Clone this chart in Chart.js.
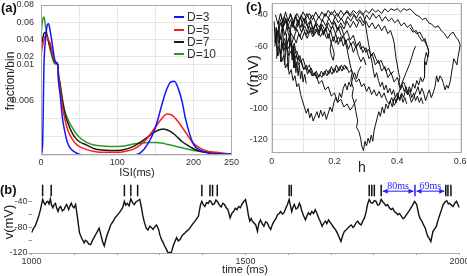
<!DOCTYPE html>
<html>
<head>
<meta charset="utf-8">
<script src="https://cdn.jsdelivr.net/npm/chart.js@4.4.0/dist/chart.umd.min.js"></script>
<style>
  body { margin: 0; background: #fff; width: 467px; height: 276px; position: relative; overflow: hidden; }
  canvas { position: absolute; }
  .txt { position: absolute; white-space: nowrap; color: #222; font-family: "Liberation Sans", Arial, sans-serif; line-height: 1; }
  .mid { transform: translate(-50%, -50%); }
  .rot { transform: translate(-50%, -50%) rotate(-90deg); }
  .tag { font-weight: bold; font-size: 13px; color: #111; }
  .key { position: absolute; height: 2px; width: 10px; }
</style>
</head>
<body>
<canvas id="chartA" width="240" height="180" style="left:0;top:0"></canvas>
<canvas id="chartC" width="237" height="175" style="left:230px;top:0"></canvas>
<canvas id="chartB" width="467" height="101" style="left:0;top:175px"></canvas>

<div class="txt tag" style="left:1px;top:1px">(a)</div>
<div class="txt rot" style="left:10px;top:81px;font-size:12px">fraction/bin</div>
<div class="txt mid" style="left:137px;top:172px;font-size:11px">ISI(ms)</div>
<div id="legendA"></div>

<div class="txt tag" style="left:246px;top:0">(c)</div>
<div class="txt rot" style="left:252px;top:75px;font-size:15px">v(mV)</div>
<div class="txt mid" style="left:362px;top:167px;font-size:14px">h</div>

<div class="txt tag" style="left:0;top:183px">(b)</div>
<div class="txt rot" style="left:8px;top:222px;font-size:13px">v(mV)</div>
<div class="txt mid" style="left:245px;top:269px;font-size:11px">time (ms)</div>

<script>
// ---- panel (a): ISI histograms ----
const isiA = [0, 2, 4, 6, 8, 10, 12, 14, 16, 18, 20, 22, 23, 25, 28, 31, 35, 40, 45, 50,
  60, 70, 80, 90, 100, 110, 120, 130, 140, 150, 160, 165, 170, 175, 180, 185, 190, 200, 210, 220, 230, 240, 250];
const fracD3 = [0, 0.001, 0.012, 0.04, 0.056, 0.058, 0.05, 0.039, 0.027, 0.016, 0.013, 0.0105, 0.0082, 0.0068, 0.0042, 0.0027, 0.0013, 0.0006, 0.0003, 0.0001,
  0, 0, 0, 0, 0, 0, 0, 0.0002, 0.0012, 0.003, 0.006, 0.0073, 0.0081, 0.0082, 0.0074, 0.006, 0.0039, 0.0012, 0.0005, 0.0002, 0.0001, 0.0001, 0.0001];
const fracD5 = [0.022, 0.032, 0.04, 0.0445, 0.043, 0.039, 0.035, 0.028, 0.019, 0.015, 0.0125, 0.0105, 0.0085, 0.0075, 0.0055, 0.0041, 0.0028, 0.0019, 0.0013, 0.00095,
  0.0006, 0.0004, 0.0003, 0.0003, 0.0003, 0.0004, 0.0006, 0.0011, 0.0019, 0.0031, 0.0042, 0.00455, 0.0045, 0.0042, 0.0037, 0.0031, 0.0025, 0.0013, 0.0007, 0.0004, 0.0003, 0.0002, 0.0001];
const fracD7 = [0.03, 0.04, 0.047, 0.048, 0.044, 0.037, 0.031, 0.025, 0.018, 0.014, 0.012, 0.0105, 0.0088, 0.0078, 0.0061, 0.0047, 0.0036, 0.0026, 0.0019, 0.0015,
  0.0011, 0.0007, 0.00055, 0.0005, 0.0005, 0.0006, 0.0009, 0.0014, 0.002, 0.0026, 0.0029, 0.0028, 0.0026, 0.0023, 0.0019, 0.0015, 0.0012, 0.0007, 0.0004, 0.0003, 0.0002, 0.0001, 0.0001];
const fracD10 = [0.046, 0.062, 0.066, 0.055, 0.045, 0.037, 0.028, 0.021, 0.015, 0.0115, 0.011, 0.0103, 0.009, 0.008, 0.0063, 0.005, 0.004, 0.0032, 0.0025, 0.002,
  0.0014, 0.0011, 0.001, 0.00095, 0.00095, 0.001, 0.0012, 0.0013, 0.0014, 0.0014, 0.0013, 0.0012, 0.0011, 0.001, 0.0009, 0.0008, 0.0007, 0.0005, 0.0004, 0.0003, 0.0002, 0.0001, 0.0001];
const seriesA = ['D=3', 'D=5', 'D=7', 'D=10'];
const colorsA = ['#1414ff', '#ff1a1a', '#1a1a1a', '#2a9a2a'];
const yTicksA = [0, 0.002, 0.004, 0.006, 0.008, 0.01, 0.02, 0.04, 0.06, 0.08];
const yLabelsA = ['', '', '', '0.006', '', '0.01', '0.02', '0.04', '0.06', '0.08'];
const xTicksA = [0, 50, 100, 150, 200, 250];
const xLabelsA = ['0', '', '100', '', '200', '250'];

// ---- panel (b): voltage trace ----
const timeB = [
  1000, 1005, 1009, 1013, 1017, 1021, 1026, 1029, 1032, 1035,
  1038, 1041, 1044, 1047, 1050, 1053, 1056, 1059, 1062, 1065,
  1068, 1072, 1076, 1079, 1082, 1085, 1087, 1090, 1093, 1096,
  1099, 1103, 1107, 1112, 1116, 1119, 1123, 1126, 1130, 1134,
  1138, 1142, 1146, 1150, 1154, 1158, 1163, 1166, 1170, 1174,
  1177, 1181, 1185, 1190, 1195, 1200, 1205, 1209, 1213, 1217,
  1220, 1224, 1228, 1232, 1236, 1240, 1244, 1248, 1253, 1257,
  1260, 1263, 1268, 1272, 1276, 1280, 1284, 1288, 1292, 1297,
  1300, 1304, 1308, 1311, 1315, 1319, 1323, 1326, 1331, 1335,
  1339, 1343, 1347, 1351, 1354, 1358, 1362, 1366, 1370, 1376,
  1382, 1386, 1390, 1395, 1398, 1402, 1405, 1409, 1413, 1416,
  1419, 1423, 1427, 1431, 1435, 1439, 1443, 1447, 1451, 1455,
  1459, 1464, 1468, 1472, 1476, 1480, 1484, 1488, 1492, 1495,
  1500, 1504, 1507, 1510, 1513, 1516, 1520, 1524, 1528, 1531,
  1535, 1539, 1543, 1547, 1551, 1555, 1559, 1563, 1567, 1571,
  1575, 1579, 1582, 1586, 1590, 1594, 1598, 1602, 1605, 1608,
  1611, 1614, 1618, 1622, 1626, 1629, 1632, 1636, 1640, 1644,
  1647, 1651, 1655, 1659, 1663, 1667, 1671, 1675, 1679, 1683,
  1687, 1690, 1694, 1698, 1702, 1706, 1710, 1714, 1718, 1723,
  1727, 1731, 1735, 1739, 1743, 1747, 1751, 1754, 1758, 1762,
  1766, 1770, 1774, 1778, 1782, 1785, 1789, 1793, 1797, 1801,
  1805, 1809, 1813, 1817, 1821, 1824, 1828, 1832, 1836, 1840,
  1844, 1848, 1852, 1856, 1860, 1864, 1868, 1871, 1875, 1879,
  1883, 1887, 1891, 1895, 1900, 1905, 1908, 1912, 1916, 1920,
  1923, 1926, 1930, 1933, 1938, 1942, 1946, 1950, 1954, 1958,
  1962, 1966, 1970, 1974, 1977, 1981, 1985, 1989, 1993, 1997,
  2000];
const voltB = [
  -88, -81, -77, -70, -62, -52, -36, -41, -44, -40,
  -39, -43, -35, -45, -49, -44, -42, -50, -55, -49,
  -47, -54, -52, -47, -44, -49, -52, -46, -42, -47,
  -49, -44, -62, -88, -95, -99, -104, -100, -102, -106,
  -107, -101, -96, -91, -86, -81, -94, -102, -109, -98,
  -91, -84, -76, -71, -65, -61, -57, -53, -49, -39,
  -45, -42, -46, -35, -41, -44, -40, -38, -36, -49,
  -61, -70, -81, -84, -78, -80, -83, -79, -76, -83,
  -92, -99, -104, -109, -114, -120, -119, -121, -109, -102,
  -96, -101, -99, -94, -91, -89, -86, -84, -81, -75,
  -70, -66, -62, -44, -39, -45, -47, -41, -42, -38,
  -39, -44, -43, -37, -40, -45, -48, -42, -44, -49,
  -52, -65, -58, -55, -50, -52, -47, -49, -43, -40,
  -36, -49, -62, -70, -66, -70, -73, -76, -86, -74,
  -68, -74, -78, -71, -73, -79, -83, -75, -70, -66,
  -60, -58, -55, -59, -57, -50, -44, -36, -46, -55,
  -48, -44, -51, -49, -42, -47, -55, -62, -68, -61,
  -57, -60, -55, -58, -52, -58, -65, -71, -78, -73,
  -70, -74, -68, -72, -76, -80, -83, -88, -94, -102,
  -93, -86, -84, -81, -78, -76, -80, -78, -73, -70,
  -74, -76, -70, -65, -55, -44, -36, -41, -42, -38,
  -39, -45, -44, -36, -40, -42, -46, -44, -49, -52,
  -50, -55, -57, -60, -58, -62, -66, -65, -61, -57,
  -53, -49, -44, -39, -44, -60, -66, -70, -76, -81,
  -88, -94, -98, -102, -86, -82, -78, -68, -60, -52,
  -44, -40, -38, -43, -42, -45, -47, -42, -39, -45,
  -49];
const spikeTimesB = [1026, 1046, 1217, 1232, 1248, 1398, 1417, 1423, 1434, 1602, 1607,
  1789, 1795, 1801, 1817, 1968, 1973, 1980];
const markedSpikeB = [1896];
const spikeSpanB = [-31, -13];
const isiFromB = [1817, 1896];
const isiToB = [1896, 1968];
const isiTextB = ['80ms', '69ms'];
const xTicksB = [1000, 1100, 1200, 1300, 1400, 1500, 1600, 1700, 1800, 1900, 2000];
const xLabelsB = ['1000', '', '', '', '', '1500', '', '', '', '', '2000'];
const yTicksB = [-120, -100, -80, -60, -40];
const yLabelsB = ['-120', '', '-80', '', '-40'];

// ---- panel (c): trajectories in the (h, v) plane ----
const traj1 = [[0.02,-52],[0.028,-45],[0.035,-49],[0.044,-42],[0.052,-47],[0.06,-43],[0.068,-48],[0.076,-41],[0.085,-45],[0.094,-40],
  [0.103,-44],[0.112,-39],[0.12,-43],[0.13,-40],[0.14,-45],[0.15,-41],[0.16,-44],[0.17,-39],[0.18,-42],[0.19,-38],
  [0.2,-41],[0.21,-39],[0.22,-43],[0.23,-40],[0.24,-38],[0.25,-41],[0.26,-39],[0.27,-42],[0.28,-38],[0.29,-40],
  [0.3,-37],[0.31,-39],[0.32,-36],[0.33,-38],[0.34,-37],[0.35,-39],[0.36,-36],[0.37,-38],[0.38,-36],[0.39,-37],
  [0.4,-36],[0.41,-38],[0.42,-36],[0.43,-37],[0.44,-36],[0.45,-38],[0.46,-40],[0.47,-41],[0.48,-43],[0.49,-42],
  [0.5,-45],[0.51,-46],[0.52,-48],[0.53,-47],[0.54,-50],[0.55,-52],[0.56,-55],[0.57,-52],[0.578,-51],[0.586,-54],
  [0.594,-56],[0.6,-59],[0.597,-63],[0.593,-67],[0.59,-72],[0.585,-70],[0.58,-68],[0.576,-73],[0.572,-78],[0.568,-83],
  [0.562,-87],[0.557,-85],[0.552,-88],[0.547,-84],[0.542,-81],[0.536,-79],[0.53,-83],[0.525,-79],[0.52,-86],[0.514,-90],
  [0.508,-93],[0.502,-88],[0.496,-91],[0.49,-95],[0.484,-90],[0.478,-87],[0.472,-91],[0.466,-86],[0.46,-89],[0.452,-93],
  [0.445,-96],[0.438,-91],[0.43,-88]];
const traj2 = [[0.01,-60],[0.018,-50],[0.026,-56],[0.034,-47],[0.042,-53],[0.05,-46],[0.058,-51],[0.066,-44],[0.075,-49],[0.084,-43],
  [0.093,-48],[0.102,-42],[0.112,-47],[0.122,-44],[0.132,-49],[0.142,-45],[0.152,-48],[0.162,-43],[0.172,-47],[0.182,-42],
  [0.192,-46],[0.202,-41],[0.212,-45],[0.222,-42],[0.232,-46],[0.242,-41],[0.252,-44],[0.262,-40],[0.272,-44],[0.282,-41],
  [0.292,-45],[0.302,-40],[0.312,-43],[0.322,-39],[0.332,-42],[0.342,-40],[0.352,-44],[0.362,-41],[0.372,-44],[0.382,-42],
  [0.392,-45],[0.402,-43],[0.412,-47],[0.422,-45],[0.432,-48],[0.442,-46],[0.452,-50],[0.462,-52],[0.472,-51],[0.482,-55],
  [0.49,-58],[0.497,-61],[0.5,-64],[0.496,-68],[0.492,-72],[0.488,-70],[0.485,-76],[0.488,-80],[0.48,-83],[0.474,-80],
  [0.468,-85],[0.462,-82],[0.456,-87],[0.45,-84],[0.444,-89],[0.438,-86],[0.432,-91],[0.426,-88],[0.42,-93],[0.414,-90],
  [0.408,-95],[0.402,-92],[0.396,-96],[0.39,-93]];
const traj3 = [[0.015,-68],[0.022,-60],[0.03,-65],[0.038,-57],[0.046,-62],[0.054,-55],[0.062,-60],[0.07,-54],[0.078,-58],[0.086,-52],
  [0.095,-56],[0.104,-51],[0.113,-55],[0.122,-50],[0.131,-54],[0.14,-49],[0.149,-53],[0.158,-48],[0.167,-52],[0.176,-47],
  [0.185,-51],[0.194,-47],[0.203,-52],[0.212,-48],[0.221,-53],[0.23,-55],[0.238,-60],[0.244,-66],[0.25,-72],[0.256,-77],
  [0.252,-82],[0.26,-87],[0.256,-92],[0.264,-97],[0.268,-102],[0.274,-108],[0.27,-112],[0.278,-115],[0.283,-119],[0.287,-124],
  [0.292,-127],[0.297,-121],[0.302,-124],[0.307,-119],[0.312,-122],[0.317,-117],[0.322,-121],[0.326,-114],[0.331,-110],[0.336,-106],
  [0.341,-102],[0.346,-105],[0.352,-99],[0.358,-103],[0.364,-97],[0.37,-100],[0.377,-95],[0.384,-99],[0.39,-93],[0.396,-96],[0.402,-91]];
const traj4 = [[0.015,-58],[0.02,-66],[0.026,-62],[0.032,-70],[0.038,-66],[0.044,-74],[0.05,-71],[0.056,-78],[0.062,-75],[0.068,-82],
  [0.074,-79],[0.08,-86],[0.086,-84],[0.092,-91],[0.098,-95],[0.104,-99],[0.11,-103],[0.116,-100],[0.121,-106],[0.126,-103],
  [0.132,-108],[0.138,-105],[0.144,-102],[0.15,-106],[0.156,-101],[0.162,-105],[0.168,-102],[0.174,-107],[0.18,-103],[0.186,-99],
  [0.192,-102],[0.198,-96],[0.204,-93],[0.21,-96],[0.216,-90],[0.222,-93],[0.228,-87],[0.234,-84],[0.24,-88],[0.246,-83],
  [0.252,-86],[0.258,-80],[0.264,-77],[0.27,-81],[0.276,-76],[0.284,-73]];
const traj5 = [[0.015,-48],[0.022,-58],[0.03,-54],[0.038,-63],[0.046,-59],[0.054,-66],[0.062,-63],[0.07,-69],[0.078,-66],[0.086,-72],
  [0.094,-69],[0.102,-75],[0.11,-72],[0.118,-77],[0.126,-74],[0.134,-79],[0.142,-76],[0.15,-80],[0.158,-76],[0.166,-79],
  [0.174,-75],[0.182,-78],[0.19,-73],[0.198,-77],[0.206,-72],[0.214,-76],[0.222,-72],[0.23,-75],[0.238,-73],[0.246,-77],
  [0.254,-75],[0.262,-80],[0.27,-83],[0.278,-81],[0.286,-86],[0.294,-84],[0.302,-89],[0.31,-86],[0.318,-91],[0.326,-88],
  [0.334,-92],[0.342,-89],[0.35,-93],[0.358,-90],[0.366,-95],[0.374,-97],[0.382,-93],[0.39,-98],[0.398,-95],[0.404,-90],
  [0.41,-87],[0.416,-83],[0.422,-80],[0.428,-77],[0.434,-74],[0.44,-71],[0.446,-67],[0.452,-63],[0.458,-60]];
const traj6 = [[0.03,-47],[0.04,-41],[0.05,-45],[0.06,-40],[0.07,-44],[0.08,-39],[0.09,-43],[0.1,-38],[0.11,-42],[0.12,-39],
  [0.13,-43],[0.14,-38],[0.15,-42],[0.16,-38],[0.17,-41],[0.18,-37],[0.19,-40],[0.2,-37],[0.21,-41],[0.22,-37],
  [0.23,-40],[0.24,-37],[0.25,-40],[0.26,-37],[0.27,-39],[0.28,-37],[0.29,-39],[0.296,-43],[0.3,-48],[0.304,-53],
  [0.308,-58],[0.312,-62],[0.316,-67],[0.32,-71],[0.324,-76],[0.328,-80],[0.334,-77],[0.34,-82],[0.346,-86],[0.352,-83],
  [0.358,-88],[0.364,-85],[0.37,-90],[0.376,-87],[0.382,-91],[0.388,-88],[0.394,-93],[0.4,-90],[0.406,-94],[0.412,-91],
  [0.418,-96],[0.424,-93],[0.43,-97]];
const traj7 = [[0.05,-58],[0.06,-51],[0.07,-55],[0.08,-49],[0.09,-54],[0.1,-48],[0.11,-53],[0.12,-47],[0.13,-52],[0.14,-46],
  [0.15,-51],[0.16,-46],[0.17,-50],[0.18,-45],[0.19,-49],[0.2,-44],[0.21,-49],[0.22,-45],[0.23,-49],[0.24,-44],
  [0.25,-48],[0.26,-44],[0.27,-48],[0.28,-43],[0.29,-47],[0.3,-44],[0.31,-48],[0.32,-45],[0.33,-49],[0.34,-46],
  [0.35,-50],[0.36,-47],[0.37,-52],[0.378,-50],[0.385,-54],[0.39,-58],[0.393,-63],[0.396,-68],[0.4,-72],[0.404,-77],
  [0.408,-80],[0.404,-84],[0.41,-88],[0.416,-85],[0.422,-89],[0.428,-86],[0.434,-91],[0.44,-88],[0.446,-93],[0.452,-90],
  [0.458,-95],[0.464,-92],[0.47,-96],[0.476,-93],[0.482,-97]];
const traj8 = [[0.025,-42],[0.035,-47],[0.045,-43],[0.055,-49],[0.065,-45],[0.075,-50],[0.085,-46],[0.095,-51],[0.105,-47],[0.115,-52],
  [0.125,-48],[0.135,-53],[0.145,-49],[0.155,-54],[0.165,-50],[0.175,-55],[0.182,-52],[0.188,-57],[0.194,-61],[0.199,-65],
  [0.196,-69],[0.19,-66],[0.186,-62],[0.19,-57],[0.197,-54],[0.204,-58],[0.212,-54],[0.22,-57],[0.228,-53],[0.236,-57],
  [0.244,-55],[0.252,-59],[0.26,-57],[0.268,-61],[0.276,-58],[0.284,-62],[0.292,-60],[0.3,-64],[0.308,-62],[0.316,-66],
  [0.324,-64],[0.332,-68],[0.34,-71],[0.348,-69],[0.356,-73],[0.364,-76],[0.372,-74],[0.38,-78],[0.388,-76]];
const traj9 = [[0.008,-44],[0.011,-58],[0.014,-48],[0.017,-66],[0.02,-54],[0.023,-44],[0.026,-62],[0.029,-70],[0.032,-56],[0.035,-47],
  [0.038,-60],[0.041,-72],[0.044,-64],[0.047,-52],[0.05,-67],[0.053,-75],[0.056,-62],[0.059,-50],[0.062,-58],[0.065,-69],
  [0.068,-60],[0.071,-74],[0.074,-66],[0.077,-77],[0.08,-70],[0.084,-79],[0.088,-72],[0.092,-81],[0.096,-76],[0.1,-83],
  [0.105,-78],[0.11,-84]];
const traj10 = [[0.44,-48],[0.45,-51],[0.46,-50],[0.47,-54],[0.48,-57],[0.488,-55],[0.495,-60],[0.5,-63],[0.497,-67],[0.492,-64],[0.486,-70]];
const traj11 = [[0.012,-40],[0.02,-46],[0.028,-39],[0.036,-45],[0.044,-38],[0.052,-44],[0.06,-39],[0.068,-46],[0.076,-40],[0.084,-47],
  [0.092,-41],[0.1,-48],[0.108,-42],[0.116,-49],[0.124,-43],[0.132,-50],[0.14,-45],[0.148,-51],[0.156,-46],[0.164,-53],
  [0.172,-48],[0.18,-55],[0.188,-50],[0.196,-57],[0.204,-52],[0.212,-59],[0.22,-54],[0.228,-60],[0.236,-56],[0.244,-62],
  [0.252,-58],[0.26,-64],[0.268,-60],[0.276,-66],[0.284,-70],[0.292,-67],[0.3,-72]];
const traj12 = [[0.03,-40],[0.038,-47],[0.046,-44],[0.053,-52],[0.06,-56],[0.066,-61],[0.072,-58],[0.078,-65],[0.084,-69],[0.09,-66],
  [0.096,-72],[0.102,-75],[0.108,-73],[0.114,-78],[0.12,-75],[0.128,-79],[0.136,-77],[0.144,-81],[0.152,-78],[0.16,-80],
  [0.168,-76],[0.176,-79],[0.184,-75],[0.192,-78],[0.2,-74],[0.208,-77],[0.216,-73],[0.224,-76],[0.232,-72],[0.24,-75]];
const traj13 = [[0.2,-45],[0.21,-50],[0.22,-47],[0.23,-53],[0.24,-50],[0.25,-56],[0.26,-53],[0.27,-60],[0.28,-57],[0.29,-64],
  [0.3,-61],[0.31,-68],[0.32,-65],[0.33,-72],[0.34,-69],[0.35,-76],[0.36,-73],[0.37,-80],[0.38,-77],[0.39,-83],
  [0.4,-80],[0.41,-86],[0.42,-83],[0.43,-88]];
const traj14 = [[0.04,-55],[0.05,-62],[0.06,-59],[0.07,-66],[0.08,-63],[0.09,-70],[0.1,-68],[0.11,-75],[0.12,-72],[0.13,-79],
  [0.14,-77],[0.15,-84],[0.16,-82],[0.17,-88],[0.18,-86],[0.19,-92],[0.2,-90],[0.21,-96],[0.22,-94],[0.23,-99],
  [0.24,-97],[0.25,-101],[0.26,-98],[0.27,-94]];
const trajectoriesC = [traj1, traj2, traj3, traj4, traj5, traj6, traj7, traj8, traj9, traj10, traj11, traj12, traj13, traj14];
const xTicksC = [0, 0.1, 0.2, 0.3, 0.4, 0.5, 0.6];
const xLabelsC = ['0', '', '0.2', '', '0.4', '', '0.6'];
const yTicksC = [-120, -110, -100, -90, -80, -70, -60, -50, -40];
const yLabelsC = ['-120', '', '-100', '', '-80', '', '-60', '', '-40'];

const tickFont = { family: 'Liberation Sans', size: 9 };
const tickColor = '#333';
const gridColor = '#e6e6e6';
const frameColor = '#a8a8a8';

// 折线刻度: 0~0.01 线性, 0.01 以上压缩
function fracToAxis(v) {
  const u = v * 1000;
  return u <= 10 ? u : 10 + (u - 10) * 0.0952;
}

// 画外框
const frameBox = {
  id: 'frameBox',
  afterDraw(chart) {
    const a = chart.chartArea;
    const ctx = chart.ctx;
    ctx.save();
    ctx.strokeStyle = frameColor;
    ctx.lineWidth = 1;
    ctx.strokeRect(Math.round(a.left) + 0.5, Math.round(a.top) + 0.5,
      Math.round(a.right - a.left) - 1, Math.round(a.bottom - a.top) - 1);
    ctx.restore();
  }
};

function fixedTicks(values, labels, map) {
  return {
    afterBuildTicks: s => { s.ticks = values.map(v => ({ value: map ? map(v) : v })); },
    ticks: { autoSkip: false, maxRotation: 0, font: tickFont, color: tickColor,
      callback: (val, i) => labels[i] }
  };
}

Chart.defaults.animation = false;
Chart.defaults.font.family = 'Liberation Sans';

// ---- chart (a) ----
const ya = fixedTicks(yTicksA, yLabelsA, fracToAxis);
const xa = fixedTicks(xTicksA, xLabelsA);
new Chart(document.getElementById('chartA'), {
  type: 'line',
  data: {
    datasets: [fracD3, fracD5, fracD7, fracD10].map((vals, k) => ({
      label: seriesA[k],
      data: isiA.map((t, i) => ({ x: t, y: fracToAxis(vals[i]) })),
      borderColor: colorsA[k],
      borderWidth: 1.5,
      pointRadius: 0,
      cubicInterpolationMode: 'monotone',
      fill: false
    }))
  },
  options: {
    responsive: false,
    layout: { padding: { left: 0, top: 5, right: 8.5, bottom: 0 } },
    plugins: { legend: { display: false }, tooltip: { enabled: false } },
    scales: {
      x: {
        type: 'linear', min: 0, max: 250,
        afterBuildTicks: xa.afterBuildTicks,
        afterFit: s => { s.height = 25; s.paddingLeft = 0; s.paddingRight = 0; },
        ticks: Object.assign({}, xa.ticks, { padding: 2 }),
        grid: { color: gridColor, drawTicks: false },
        border: { display: false }
      },
      y: {
        min: 0, max: fracToAxis(0.08),
        afterBuildTicks: ya.afterBuildTicks,
        afterFit: s => { s.width = 41; s.paddingTop = 0; s.paddingBottom = 0; },
        ticks: Object.assign({}, ya.ticks, { padding: 7 }),
        grid: { color: gridColor, drawTicks: false },
        border: { display: false }
      }
    }
  },
  plugins: [frameBox]
});

// legend of (a)
const legendRowsY = [17, 30, 42, 54];
document.getElementById('legendA').innerHTML = seriesA.map((name, k) =>
  '<div class="key" style="left:174px;top:' + (legendRowsY[k] - 1) + 'px;background:' + colorsA[k] + '"></div>' +
  '<div class="txt" style="left:187px;top:' + (legendRowsY[k] - 6) + 'px;font-size:12px;color:#333">' + name + '</div>'
).join('');

// ---- chart (c) ----
const yc = fixedTicks(yTicksC, yLabelsC);
const xc = fixedTicks(xTicksC, xLabelsC);
new Chart(document.getElementById('chartC'), {
  type: 'line',
  data: {
    datasets: trajectoriesC.map(tr => ({
      data: tr.map(p => ({ x: p[0], y: p[1] })),
      borderColor: '#111',
      borderWidth: 1,
      pointRadius: 0,
      tension: 0
    }))
  },
  options: {
    responsive: false,
    layout: { padding: { left: 0, top: 3.3, right: 5.3, bottom: 0 } },
    plugins: { legend: { display: false }, tooltip: { enabled: false } },
    scales: {
      x: {
        type: 'linear', min: 0, max: 0.605,
        afterBuildTicks: xc.afterBuildTicks,
        afterFit: s => { s.height = 22; s.paddingLeft = 0; s.paddingRight = 0; },
        ticks: Object.assign({}, xc.ticks, { padding: 3 }),
        grid: { color: gridColor, drawTicks: false },
        border: { display: false }
      },
      y: {
        min: -128.5, max: -32.5,
        afterBuildTicks: yc.afterBuildTicks,
        afterFit: s => { s.width = 41.7; s.paddingTop = 0; s.paddingBottom = 0; },
        ticks: Object.assign({}, yc.ticks, { padding: 4 }),
        grid: { color: gridColor, drawTicks: false },
        border: { display: false }
      }
    }
  },
  plugins: [frameBox]
});

// ---- chart (b) ----
// ISI 标注: 蓝色双箭头 + 文字
const isiArrows = {
  id: 'isiArrows',
  afterDatasetsDraw(chart) {
    const ctx = chart.ctx;
    const xs = chart.scales.x, ys = chart.scales.y;
    const ay = ys.getPixelForValue(-23);
    const ty = ys.getPixelForValue(-15);
    ctx.save();
    ctx.strokeStyle = '#1f1fff';
    ctx.fillStyle = '#1f1fff';
    ctx.lineWidth = 1;
    ctx.font = '10px "Liberation Serif"';
    ctx.textAlign = 'center';
    ctx.textBaseline = 'middle';
    isiFromB.forEach((t0, i) => {
      const x0 = xs.getPixelForValue(t0) + 1.5;
      const x1 = xs.getPixelForValue(isiToB[i]) - 1.5;
      ctx.beginPath();
      ctx.moveTo(x0, ay); ctx.lineTo(x1, ay);
      ctx.stroke();
      [[x0, 1], [x1, -1]].forEach(([x, d]) => {
        ctx.beginPath();
        ctx.moveTo(x, ay);
        ctx.lineTo(x + d * 5, ay - 2.5);
        ctx.lineTo(x + d * 5, ay + 2.5);
        ctx.closePath();
        ctx.fill();
      });
      ctx.fillText(isiTextB[i], (x0 + x1) / 2, ty);
    });
    ctx.restore();
  }
};

function barsFrom(times) {
  const pts = [];
  times.forEach(t => {
    pts.push({ x: t, y: spikeSpanB[0] }, { x: t, y: spikeSpanB[1] }, { x: t, y: null });
  });
  return pts;
}

const yb = fixedTicks(yTicksB, yLabelsB);
const xb = fixedTicks(xTicksB, xLabelsB);
new Chart(document.getElementById('chartB'), {
  type: 'line',
  data: {
    datasets: [
      {
        data: timeB.map((t, i) => ({ x: t, y: voltB[i] })),
        borderColor: '#111',
        borderWidth: 1.4,
        pointRadius: 0,
        tension: 0
      },
      {
        data: barsFrom(spikeTimesB),
        borderColor: '#111',
        borderWidth: 1.5,
        pointRadius: 0,
        spanGaps: false
      },
      {
        data: barsFrom(markedSpikeB),
        borderColor: '#1f1fff',
        borderWidth: 1.5,
        pointRadius: 0,
        spanGaps: false
      }
    ]
  },
  options: {
    responsive: false,
    layout: { padding: { left: 0, top: 5, right: 7.5, bottom: 0 } },
    plugins: { legend: { display: false }, tooltip: { enabled: false } },
    scales: {
      x: {
        type: 'linear', min: 1000, max: 2000,
        afterBuildTicks: xb.afterBuildTicks,
        afterFit: s => { s.height = 23; s.paddingLeft = 0; s.paddingRight = 0; },
        ticks: Object.assign({}, xb.ticks, { padding: 1 }),
        grid: { display: true, drawOnChartArea: false, drawTicks: true, tickLength: 2, color: '#999' },
        border: { display: true, color: '#aaa' }
      },
      y: {
        min: -120, max: -5.5,
        afterBuildTicks: yb.afterBuildTicks,
        afterFit: s => { s.width = 31.5; s.paddingTop = 0; s.paddingBottom = 0; },
        ticks: Object.assign({}, yb.ticks, { padding: 1 }),
        grid: { display: true, drawOnChartArea: false, drawTicks: true, tickLength: 3, color: '#999' },
        border: { display: false }
      }
    }
  },
  plugins: [isiArrows]
});
</script>
</body>
</html>
